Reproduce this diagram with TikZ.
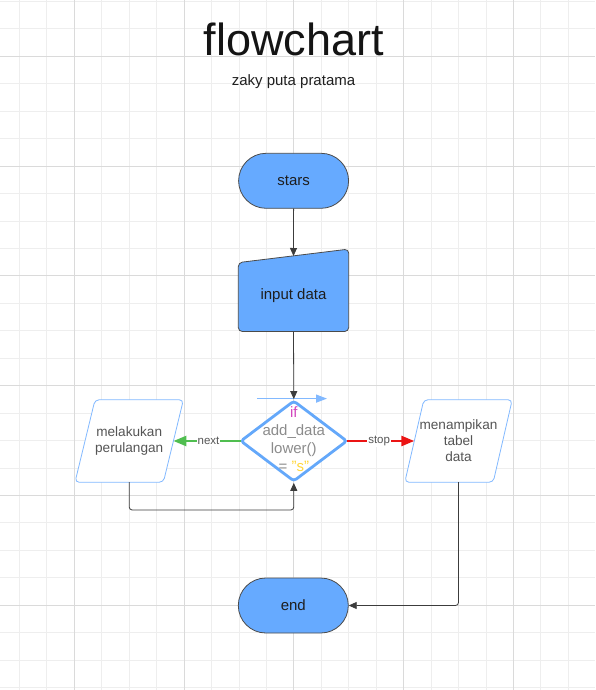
\documentclass[tikz,border=0pt]{standalone}
\usepackage{fontspec}
\setmainfont{Liberation Sans}
\usetikzlibrary{shapes.geometric,arrows.meta,calc}
\definecolor{gridminor}{RGB}{238,238,238}
\definecolor{gridmajor}{RGB}{218,218,218}
\definecolor{termfill}{RGB}{102,170,255}
\definecolor{termline}{RGB}{75,75,75}
\definecolor{decline}{RGB}{100,168,250}
\definecolor{ioline}{RGB}{130,185,255}
\definecolor{txtdark}{RGB}{30,30,30}
\definecolor{txtgray}{RGB}{85,85,85}
\definecolor{txtlight}{RGB}{140,140,140}
\definecolor{ifpink}{RGB}{210,70,190}
\definecolor{syellow}{RGB}{255,215,60}
\definecolor{nextgreen}{RGB}{80,190,80}
\definecolor{stopred}{RGB}{235,20,20}
\definecolor{flowline}{RGB}{60,60,60}
\begin{document}
\begin{tikzpicture}[x=1pt,y=-1pt,
  terminal/.style={rectangle, rounded corners=27.5pt, minimum width=110pt, minimum height=55pt,
    fill=termfill, draw=termline, line width=0.8pt, text=txtdark, font=\fontsize{15}{18}\selectfont},
  iobox/.style={rectangle, minimum width=108pt, minimum height=82pt, inner sep=0pt,
    text=txtgray, align=center, font=\fontsize{13.6}{16}\selectfont},
  ioshape/.style={draw=ioline, line width=0.8pt, fill=white, rounded corners=4pt},
  decision/.style={diamond, draw=decline, line width=2.8pt, fill=white, minimum width=107pt,
    minimum height=81pt, rounded corners=3pt, inner sep=0pt},
  flow/.style={flowline, line width=0.8pt, -{Triangle[length=8pt,width=7pt]}},
  branchlbl/.style={fill=white, text=txtgray, font=\fontsize{11.5}{12}\selectfont, inner sep=1pt},
  branch/.style={line width=2.5pt, -{Triangle[length=13pt,width=10pt]}},
]
\useasboundingbox (0,0) rectangle (595,690);
\fill[white] (0,0) rectangle (595,690);
% grid
\foreach \i in {0,...,20} \draw[gridminor, line width=1pt] ({19.4+27.45*\i},0) -- ({19.4+27.45*\i},690);
\foreach \j in {0,...,25} \draw[gridminor, line width=1pt] (0,{1.4+27.45*\j}) -- (595,{1.4+27.45*\j});
\foreach \i in {0,...,4} \draw[gridmajor, line width=1pt] ({74.3+109.8*\i},0) -- ({74.3+109.8*\i},690);
\foreach \j in {0,...,5} \draw[gridmajor, line width=1pt] (0,{56.3+109.8*\j}) -- (595,{56.3+109.8*\j});

% titles
\node[anchor=base, font=\fontsize{45}{50}\selectfont, text=black!92, inner sep=0pt] (title) at (293.8,56) {flowchart};
\node[anchor=base, font=\fontsize{15}{18}\selectfont, text=black!88, inner sep=0pt] (subtitle) at (293.5,86) {zaky puta pratama};

% start
\node[terminal] (start) at (293.6,180.8) {stars};

% manual input
\node[minimum width=110pt, minimum height=82pt, inner sep=0pt] (inp) at (293.5,290.3) {};
\fill[termfill, draw=termline, line width=0.8pt, rounded corners=4pt]
  (inp.south west) -- (inp.south east) -- (inp.north east) -- ($(inp.north west)+(0,13.5)$) -- cycle;
\node[text=txtdark, font=\fontsize{15}{18}\selectfont] (inptext) at (293.5,295.5) {input data};
\coordinate (inptop) at (293.5,256);

% decision
\coordinate (ba1) at (257,398.6);
\coordinate (ba2) at (327,398.6);
\draw[ioline, line width=1.3pt, -{Triangle[length=11pt,width=8pt]}] (ba1) -- (ba2);
\node[decision] (dec) at (293.8,441) {};
\node[font=\fontsize{15}{18}\selectfont, align=center, text=txtlight, inner sep=0pt] (dectext) at (293.8,439)
  {\textcolor{ifpink}{if}\\add\_data\\lower()\\= \textcolor{syellow}{"s"}};

% io boxes
\node[iobox] (left) at (129.2,441) {};
\draw[ioshape] (left.south west) -- ($(left.south east)+(-20,0)$) -- (left.north east) -- ($(left.north west)+(20,0)$) -- cycle;
\node[iobox] (lefttext) at (129.2,441) {melakukan\\perulangan};
\node[iobox, minimum width=107pt] (right) at (458.5,441) {};
\draw[ioshape] (right.south west) -- ($(right.south east)+(-19,0)$) -- (right.north east) -- ($(right.north west)+(19,0)$) -- cycle;
\node[iobox] (righttext) at (458.5,441) {menampikan\\tabel\hspace{6pt}\\data\hspace{16pt}};
\coordinate (leftin) at ($(left.east)+(-10,0)$);
\coordinate (rightin) at ($(right.west)+(9.5,0)$);

% end
\node[terminal] (end) at (293.3,605.5) {end};

% connectors
\draw[flow] (start.south) -- (inptop);
\draw[flow] (inp.south) -- (dec.north);
\draw[branch, nextgreen] ($(dec.west)+(2,0)$) -- node[branchlbl, pos=0.48] {next} (leftin);
\draw[branch, stopred] ($(dec.east)+(-2,0)$) -- node[branchlbl, pos=0.48] {stop} (rightin);
\coordinate (loopy) at (0,510);
\draw[flow, rounded corners=3pt] (left.center |- left.south) |- (loopy -| dec.south) -- (dec.south);
\draw[flow, rounded corners=3pt] (right.center |- right.south) |- (end.east);
\end{tikzpicture}
\end{document}
